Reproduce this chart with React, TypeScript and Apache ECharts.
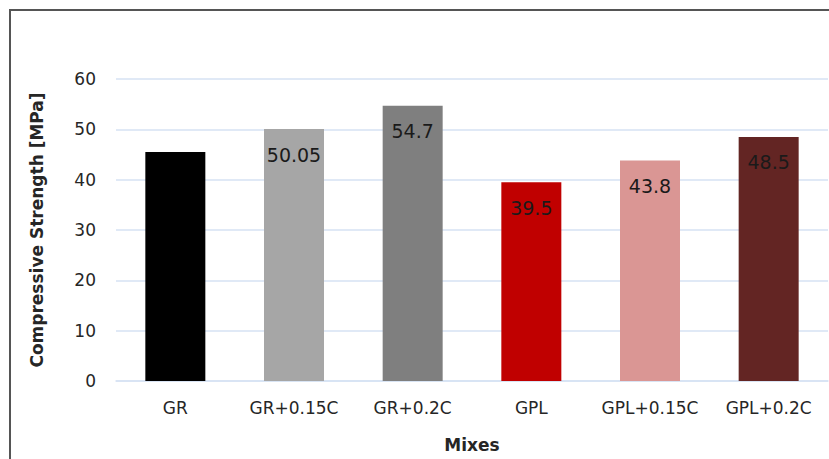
import React, { useEffect, useRef } from "react";
import * as echarts from "echarts";

const categories = ["GR", "GR+0.15C", "GR+0.2C", "GPL", "GPL+0.15C", "GPL+0.2C"];
const values = [45.5, 50.05, 54.7, 39.5, 43.8, 48.5];
const labels = ["45.5", "50.05", "54.7", "39.5", "43.8", "48.5"];
const barColors = ["#000000", "#A6A6A6", "#7F7F7F", "#C00000", "#DA9694", "#632523"];
const labelColors = ["#000000", "#1a1a1a", "#1a1a1a", "#1a1a1a", "#1a1a1a", "#1a1a1a"];
const yTicks = { min: 0, max: 60, interval: 10 };

const FONT = "DejaVu Sans";

export default function App() {
  const ref = useRef<HTMLDivElement>(null);
  useEffect(() => {
    if (!ref.current) return;
    const chart = echarts.init(ref.current, null, { renderer: "svg" });
    chart.setOption({
      animation: false,
      backgroundColor: "#ffffff",
      textStyle: { fontFamily: FONT },
      graphic: [
        {
          type: "line",
          shape: { x1: 10, y1: 10, x2: 10, y2: 470 },
          style: { stroke: "#555555", lineWidth: 2 },
          z: 100,
          silent: true,
        },
        {
          type: "line",
          shape: { x1: 9, y1: 10, x2: 840, y2: 10 },
          style: { stroke: "#555555", lineWidth: 2 },
          z: 100,
          silent: true,
        },
      ],
      grid: {
        left: 116,
        top: 79,
        width: 712,
        bottom: 78,
        containLabel: false,
        outerBoundsMode: "none",
      },
      xAxis: {
        type: "category",
        data: categories,
        name: "Mixes",
        nameLocation: "middle",
        nameGap: 55,
        nameTextStyle: { fontFamily: FONT, fontWeight: "bold", fontSize: 17, color: "#262626" },
        axisLine: { show: true, lineStyle: { color: "#D6E2F3", width: 1.5 } },
        axisTick: { show: false },
        axisLabel: { fontFamily: FONT, fontSize: 17, color: "#262626", margin: 18, interval: 0 },
      },
      yAxis: {
        type: "value",
        min: yTicks.min,
        max: yTicks.max,
        interval: yTicks.interval,
        name: "Compressive Strength [MPa]",
        nameLocation: "middle",
        nameGap: 71,
        nameTextStyle: { fontFamily: FONT, fontWeight: "bold", fontSize: 17, color: "#262626" },
        axisLine: { show: false },
        axisTick: { show: false },
        axisLabel: { fontFamily: FONT, fontSize: 17, color: "#262626", margin: 20 },
        splitLine: { lineStyle: { color: "#D6E2F3", width: 1.5 } },
      },
      series: [
        {
          type: "bar",
          barWidth: 60,
          data: values.map((v, i) => ({
            value: v,
            itemStyle: { color: barColors[i] },
            label: { color: labelColors[i] },
          })),
          label: {
            show: true,
            position: "insideTop",
            distance: 16,
            fontFamily: FONT,
            fontSize: 19,
            formatter: (p: any) => labels[p.dataIndex],
          },
        },
      ],
    });
    return () => chart.dispose();
  }, []);
  return (
    <div
      ref={ref}
      style={{ position: "fixed", left: 0, top: 0, width: 829, height: 459 }}
    />
  );
}
